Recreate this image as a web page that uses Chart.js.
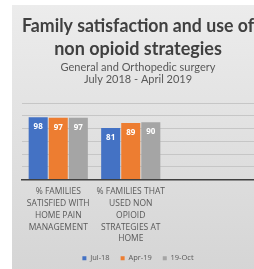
<!DOCTYPE html>
<html>
<head>
<meta charset="utf-8">
<script src="https://cdn.jsdelivr.net/npm/chart.js@4"></script>
<style>
  html, body { margin: 0; padding: 0; background: #fff; overflow: hidden; }
  #wrap {
    position: absolute; left: 12px; top: 5px; width: 242px; height: 267px;
    background: linear-gradient(#ececec, #d5d5d5);
  }
</style>
</head>
<body>
<div id="wrap"><canvas id="chart" width="242" height="267"></canvas></div>
<script>
  // Categories and values
  const categories = [
    ['% FAMILIES', 'SATISFIED WITH', 'HOME PAIN', 'MANAGEMENT'],
    ['% FAMILIES THAT', 'USED NON', 'OPIOID', 'STRATEGIES AT', 'HOME']
  ];
  const seriesNames = ['Jul-18', 'Apr-19', '19-Oct'];
  const jul18 = [98, 81];
  const apr19 = [97, 89];
  const oct19 = [97, 90];
  const yTicks = [0, 20, 40, 60, 80, 100, 120];

  const colors = ['#4472c4', '#ed7d31', '#a5a5a5'];
  const titleFont = 'Lato, "Open Sans", sans-serif';
  const smallFont = '"Open Sans", Lato, sans-serif';

  function toPoints(arr) {
    return arr.map((v, i) => ({ x: i, y: v }));
  }

  // white value labels inside the top of each bar
  const barLabels = {
    id: 'barLabels',
    afterDatasetsDraw(chart) {
      const ctx = chart.ctx;
      ctx.save();
      ctx.fillStyle = '#ffffff';
      ctx.font = 'bold 8px ' + smallFont;
      ctx.textAlign = 'center';
      ctx.textBaseline = 'middle';
      chart.data.datasets.forEach((ds, di) => {
        chart.getDatasetMeta(di).data.forEach((bar, i) => {
          ctx.fillText(ds.data[i].y, bar.x, bar.y + 9.5);
        });
      });
      ctx.restore();
    }
  };

  const ctx = document.getElementById('chart').getContext('2d');
  new Chart(ctx, {
    type: 'bar',
    data: {
      datasets: [
        { label: seriesNames[0], data: toPoints(jul18), backgroundColor: colors[0] },
        { label: seriesNames[1], data: toPoints(apr19), backgroundColor: colors[1] },
        { label: seriesNames[2], data: toPoints(oct19), backgroundColor: colors[2] }
      ]
    },
    options: {
      responsive: false,
      animation: false,
      categoryPercentage: 0.83,
      barPercentage: 0.95,
      layout: { padding: { left: 10, right: 0, top: 0, bottom: 0 } },
      plugins: {
        title: {
          display: true,
          text: ['Family satisfaction and use of', 'non opioid strategies'],
          color: '#404040',
          font: { family: titleFont, size: 18, weight: 'bold', lineHeight: 1.28 },
          padding: { top: 10, bottom: 0 }
        },
        subtitle: {
          display: true,
          text: ['General and Orthopedic surgery', 'July 2018 - April 2019'],
          color: '#595959',
          font: { family: titleFont, size: 11, lineHeight: 1.14 },
          padding: { top: 0, bottom: 17 }
        },
        legend: {
          position: 'bottom',
          labels: {
            color: '#595959',
            font: { family: smallFont, size: 7.5 },
            boxWidth: 4,
            boxHeight: 4,
            padding: 11
          }
        },
        tooltip: { enabled: false }
      },
      scales: {
        x: {
          type: 'linear',
          offset: false,
          min: -0.5,
          max: 2.7,
          grid: { display: false },
          border: { display: true, color: '#404040', width: 1.5 },
          ticks: {
            stepSize: 1,
            includeBounds: false,
            autoSkip: false,
            maxRotation: 0,
            minRotation: 0,
            padding: -2,
            color: '#595959',
            font: { family: smallFont, size: 8.5, lineHeight: 1.4 },
            callback: (v) => categories[v] || ''
          },
          afterFit(scale) { scale.height = 64; }
        },
        y: {
          min: yTicks[0],
          max: yTicks[yTicks.length - 1],
          ticks: { display: false, stepSize: 20 },
          grid: { color: '#c6c6c6', drawTicks: false },
          border: { display: false }
        }
      }
    },
    plugins: [barLabels]
  });
</script>
</body>
</html>
